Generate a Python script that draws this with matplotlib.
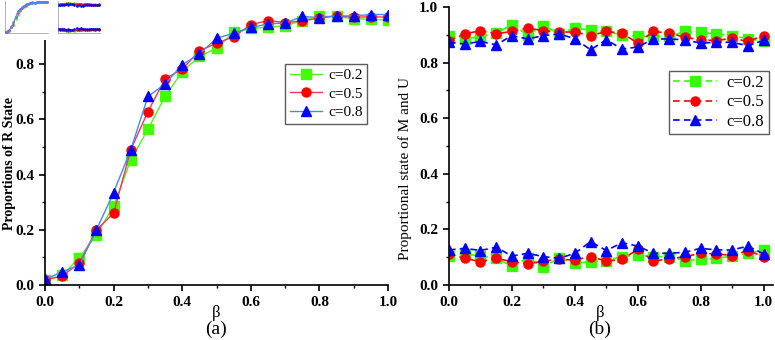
import numpy as np
import matplotlib
matplotlib.use('Agg')
import matplotlib.pyplot as plt
from matplotlib.ticker import MultipleLocator

plt.rcParams['font.family'] = ['Liberation Serif', 'DejaVu Serif']

beta = np.round(np.arange(0, 1.0001, 0.05), 2)
labels = ['c=0.2', 'c=0.5', 'c=0.8']

# (a) proportions of R state
r_c02 = [0.018, 0.035, 0.099, 0.181, 0.286, 0.453, 0.564, 0.683, 0.773, 0.828, 0.858,
         0.915, 0.930, 0.934, 0.939, 0.958, 0.973, 0.973, 0.965, 0.963, 0.960]
r_c05 = [0.018, 0.033, 0.079, 0.200, 0.260, 0.490, 0.628, 0.747, 0.782, 0.848, 0.876,
         0.900, 0.943, 0.958, 0.951, 0.957, 0.967, 0.975, 0.970, 0.972, 0.970]
r_c08 = [0.020, 0.048, 0.072, 0.200, 0.335, 0.490, 0.683, 0.728, 0.798, 0.837, 0.894,
         0.912, 0.933, 0.946, 0.949, 0.973, 0.969, 0.975, 0.975, 0.980, 0.980]

# (b) proportions of M (upper) and U (lower)
m_c02 = [0.897, 0.885, 0.894, 0.906, 0.936, 0.900, 0.933, 0.904, 0.924, 0.916, 0.912,
         0.900, 0.894, 0.894, 0.894, 0.912, 0.909, 0.903, 0.897, 0.886, 0.876]
m_c05 = [0.879, 0.903, 0.915, 0.904, 0.912, 0.924, 0.915, 0.910, 0.910, 0.897, 0.912,
         0.906, 0.870, 0.912, 0.906, 0.891, 0.882, 0.879, 0.888, 0.876, 0.897]
m_c08 = [0.873, 0.867, 0.876, 0.864, 0.897, 0.885, 0.897, 0.903, 0.886, 0.846, 0.882,
         0.849, 0.856, 0.885, 0.885, 0.882, 0.870, 0.873, 0.873, 0.861, 0.880]
u_c02 = [0.106, 0.112, 0.104, 0.096, 0.068, 0.096, 0.066, 0.096, 0.078, 0.084, 0.088,
         0.102, 0.108, 0.102, 0.102, 0.088, 0.092, 0.096, 0.104, 0.114, 0.126]
u_c05 = [0.112, 0.096, 0.084, 0.096, 0.084, 0.076, 0.086, 0.092, 0.090, 0.102, 0.086,
         0.092, 0.128, 0.086, 0.094, 0.102, 0.114, 0.112, 0.106, 0.124, 0.102]
u_c08 = [0.126, 0.132, 0.124, 0.136, 0.104, 0.114, 0.102, 0.096, 0.114, 0.156, 0.124,
         0.152, 0.140, 0.114, 0.114, 0.118, 0.132, 0.126, 0.126, 0.140, 0.112]

line_cols = ['#55ee22', '#ff3355', '#4488ff']
mk_cols = ['#44ff00', '#ff0000', '#0000ff']
dash_cols = ['#33ff00', '#ff0000', '#0000ff']
markers = ['s', 'o', '^']

W, H = 775, 340
fig = plt.figure(figsize=(W / 100, H / 100), dpi=100)


def px(x0, y0, x1, y1):
    # pixel box -> figure fraction
    return [x0 / W, 1 - y1 / H, (x1 - x0) / W, (y1 - y0) / H]


def style_axes(ax, size=11):
    for s in ['top', 'right']:
        ax.spines[s].set_visible(False)
    for s in ['left', 'bottom']:
        ax.spines[s].set_linewidth(1.2)
    ax.xaxis.set_major_locator(MultipleLocator(0.2))
    ax.xaxis.set_minor_locator(MultipleLocator(0.1))
    ax.yaxis.set_major_locator(MultipleLocator(0.2))
    ax.yaxis.set_minor_locator(MultipleLocator(0.1))
    ax.tick_params(which='major', direction='out', length=4, width=1.2, labelsize=size, pad=4)
    ax.tick_params(which='minor', direction='out', length=2.5, width=1)
    ax.xaxis.set_major_formatter(plt.FormatStrFormatter('%.1f'))
    ax.yaxis.set_major_formatter(plt.FormatStrFormatter('%.1f'))
    for t in ax.get_xticklabels() + ax.get_yticklabels():
        t.set_fontweight('bold')


# ---- panel (a)
ax1 = fig.add_axes(px(45, 9, 388, 285))
for ys, lc, mc, mk, lb in zip([r_c02, r_c05, r_c08], line_cols, mk_cols, markers, labels):
    ax1.plot(beta, ys, color=lc, lw=1.0, marker=mk, ms=6.5, mfc=mc, mec=mc, label=lb)
ax1.set_xlim(0, 1.0)
ax1.set_ylim(0, 1.0)
style_axes(ax1)
ax1.set_ylabel('Proportions of R State', fontsize=10, fontweight='bold', labelpad=2)
ax1.yaxis.set_label_coords(-0.085, 0.44)
leg1 = ax1.legend(loc='upper left', bbox_to_anchor=(0.70, 0.80), fontsize=11,
                  frameon=True, fancybox=False, edgecolor='#333333', handlelength=2.1,
                  borderpad=0.3, labelspacing=0.3, handletextpad=0.4, borderaxespad=0)
leg1.get_frame().set_linewidth(1.0)
fig.text(216 / W, 1 - 313 / H, 'β', ha='center', va='center', fontsize=12)
fig.text(216 / W, 1 - 329 / H, '(a)', ha='center', va='center', fontsize=14)

# ---- panel (b)
ax2 = fig.add_axes(px(449, 7, 773, 285))
for ys, c, mk, lb in zip([m_c02, m_c05, m_c08], dash_cols, markers, labels):
    ax2.plot(beta, ys, color=c, lw=1.2, ls=(0, (4, 2.5)), marker=mk, ms=6.5,
             mfc=c, mec=c, label=lb)
for ys, c, mk in zip([u_c02, u_c05, u_c08], dash_cols, markers):
    ax2.plot(beta, ys, color=c, lw=1.2, ls=(0, (4, 2.5)), marker=mk, ms=6.5, mfc=c, mec=c)
ax2.set_xlim(0, 1.03)
ax2.set_ylim(0, 1.0)
style_axes(ax2)
ax2.set_ylabel('Proportional state of M and U', fontsize=11, labelpad=3)
ax2.yaxis.set_label_coords(-0.115, 0.42)
leg2 = ax2.legend(loc='upper left', bbox_to_anchor=(0.68, 0.77), fontsize=12,
                  frameon=True, fancybox=False, edgecolor='#333333', handlelength=2.6,
                  borderpad=0.25, labelspacing=0.2, handletextpad=0.6, borderaxespad=0)
leg2.get_frame().set_linewidth(1.0)
fig.text(600 / W, 1 - 313 / H, 'β', ha='center', va='center', fontsize=12)
fig.text(600 / W, 1 - 329 / H, '(b)', ha='center', va='center', fontsize=14)

# ---- small thumbnail in the corner
bg = fig.add_axes(px(0, 0, 140, 40))
bg.set_facecolor('white')
bg.set_xticks([])
bg.set_yticks([])
for s in bg.spines.values():
    s.set_visible(False)

t1 = fig.add_axes(px(5, 1, 48, 33))
for ys, lc in zip([r_c02, r_c05, r_c08], line_cols):
    t1.plot(beta, ys, color=lc, lw=0.5, marker='s', ms=0.8)
t2 = fig.add_axes(px(58, 1, 100, 33))
for ys, c in zip([m_c02, m_c05, m_c08, u_c02, u_c05, u_c08], dash_cols * 2):
    t2.plot(beta, ys, color=c, lw=0.5, ls='--', marker='s', ms=0.8)
for t in [t1, t2]:
    t.set_xlim(0, 1.02)
    t.set_ylim(0, 1.0)
    t.set_xticks([])
    t.set_yticks([])
    for s in ['top', 'right']:
        t.spines[s].set_visible(False)
    for s in ['left', 'bottom']:
        t.spines[s].set_linewidth(0.4)
        t.spines[s].set_color('#777777')

fig.savefig('out.png', dpi=100)
